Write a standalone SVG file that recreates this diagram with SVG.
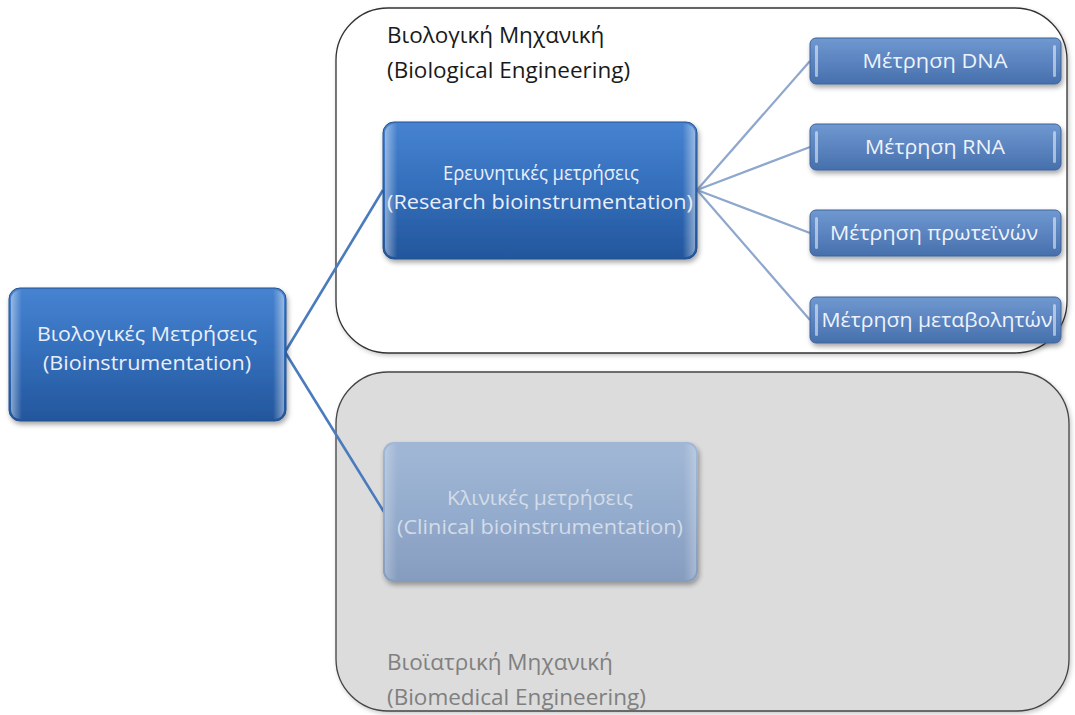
<svg xmlns="http://www.w3.org/2000/svg" width="1075" height="715" viewBox="0 0 1075 715">
  <defs>
    <style>
      .lbl { font-family: "Open Sans", "Noto Sans", "DejaVu Sans", sans-serif; text-anchor: middle; }
      .node-text { fill: #e9eff8; font-size: 20px; }
      .leaf-text { fill: #eef3fb; font-size: 19.5px; }
      .faded-text { fill: #d3dce9; font-size: 19.5px; }
      .area-title { font-family: "Open Sans", "Noto Sans", "DejaVu Sans", sans-serif; font-size: 22.5px; }
      .conn-main { stroke: #4a7bbd; stroke-width: 2.6; fill: none; }
      .conn-leaf { stroke: #8ea7cd; stroke-width: 2.2; fill: none; }
      .bar { fill: #ffffff; opacity: 0.5; }
    </style>
    <linearGradient id="gDark" x1="0" y1="0" x2="0" y2="1">
      <stop offset="0" stop-color="#4683d0"/>
      <stop offset="0.45" stop-color="#3570bd"/>
      <stop offset="1" stop-color="#23569c"/>
    </linearGradient>
    <linearGradient id="gLeaf" x1="0" y1="0" x2="0" y2="1">
      <stop offset="0" stop-color="#7098d0"/>
      <stop offset="0.5" stop-color="#5b84c0"/>
      <stop offset="1" stop-color="#4670ab"/>
    </linearGradient>
    <linearGradient id="gFaded" x1="0" y1="0" x2="0" y2="1">
      <stop offset="0" stop-color="#9fb6d6"/>
      <stop offset="0.5" stop-color="#91aacd"/>
      <stop offset="1" stop-color="#8199bd"/>
    </linearGradient>
    <linearGradient id="gEdge" x1="0" y1="0" x2="1" y2="0">
      <stop offset="0" stop-color="#ffffff" stop-opacity="0.45"/>
      <stop offset="0.04" stop-color="#ffffff" stop-opacity="0"/>
      <stop offset="0.96" stop-color="#ffffff" stop-opacity="0"/>
      <stop offset="1" stop-color="#ffffff" stop-opacity="0.45"/>
    </linearGradient>
    <filter id="shadow" x="-10%" y="-10%" width="120%" height="130%">
      <feDropShadow dx="1.5" dy="3" stdDeviation="2.5" flood-color="#000" flood-opacity="0.35"/>
    </filter>
    <filter id="areaShadow" x="-5%" y="-5%" width="110%" height="110%">
      <feDropShadow dx="1.5" dy="2" stdDeviation="2" flood-color="#000" flood-opacity="0.22"/>
    </filter>
  </defs>

  <rect width="1075" height="715" fill="#ffffff"/>

  <!-- Grouping areas -->
  <g id="area-biological">
    <rect x="336" y="8" width="731" height="345" rx="52" ry="52" fill="#ffffff" stroke="#333333" stroke-width="1.3" filter="url(#areaShadow)"/>
    <text class="area-title" fill="#1a1a1a" x="387" y="43">Βιολογική Μηχανική</text>
    <text class="area-title" fill="#1a1a1a" x="387" y="78">(Biological Engineering)</text>
  </g>
  <g id="area-biomedical">
    <rect x="336" y="372" width="733" height="339" rx="52" ry="52" fill="#dcdcdc" stroke="#444444" stroke-width="1.3" filter="url(#areaShadow)"/>
    <text class="area-title" fill="#808080" x="387" y="670">Βιοϊατρική Μηχανική</text>
    <text class="area-title" fill="#808080" x="387" y="705">(Biomedical Engineering)</text>
  </g>

  <!-- Connectors -->
  <g id="connectors">
    <line class="conn-main" x1="285" y1="352" x2="383" y2="190"/>
    <line class="conn-main" x1="285" y1="352" x2="384" y2="512"/>
    <line class="conn-leaf" x1="697" y1="190" x2="810" y2="61"/>
    <line class="conn-leaf" x1="697" y1="190" x2="810" y2="147"/>
    <line class="conn-leaf" x1="697" y1="190" x2="810" y2="233"/>
    <line class="conn-leaf" x1="697" y1="190" x2="810" y2="320"/>
  </g>

  <!-- Root node -->
  <g id="node-bioinstrumentation">
    <rect x="9" y="288" width="277" height="133" rx="11" fill="url(#gDark)" stroke="#24508e" stroke-width="1" filter="url(#shadow)"/>
    <rect x="11" y="290" width="273" height="129" rx="9" fill="url(#gEdge)"/>
    <text class="lbl node-text" x="147" y="341" textLength="220" lengthAdjust="spacingAndGlyphs">Βιολογικές Μετρήσεις</text>
    <text class="lbl node-text" x="147" y="370" textLength="208" lengthAdjust="spacingAndGlyphs">(Bioinstrumentation)</text>
  </g>

  <!-- Research branch -->
  <g id="node-research">
    <rect x="383" y="122" width="314" height="137" rx="11" fill="url(#gDark)" stroke="#24508e" stroke-width="1" filter="url(#shadow)"/>
    <rect x="385" y="124" width="310" height="133" rx="9" fill="url(#gEdge)"/>
    <text class="lbl node-text" x="541" y="180" textLength="196" lengthAdjust="spacingAndGlyphs">Ερευνητικές μετρήσεις</text>
    <text class="lbl node-text" x="540" y="209" textLength="306" lengthAdjust="spacingAndGlyphs">(Research bioinstrumentation)</text>
  </g>

  <!-- Clinical branch (inactive) -->
  <g id="node-clinical">
    <rect x="383" y="442" width="315" height="140" rx="11" fill="url(#gFaded)" filter="url(#shadow)" opacity="0.95"/>
    <rect x="385" y="444" width="311" height="136" rx="9" fill="url(#gEdge)" opacity="0.6"/>
    <text class="lbl faded-text" x="540" y="505" textLength="186" lengthAdjust="spacingAndGlyphs">Κλινικές μετρήσεις</text>
    <text class="lbl faded-text" x="540" y="534" textLength="286" lengthAdjust="spacingAndGlyphs">(Clinical bioinstrumentation)</text>
  </g>

  <!-- Leaf measurements -->
  <g id="leaf-dna">
    <rect x="810" y="38" width="251" height="46" rx="6" fill="url(#gLeaf)" stroke="#3e639b" stroke-width="1" filter="url(#shadow)"/>
    <rect class="bar" x="815" y="45" width="3" height="32" rx="1.5"/>
    <rect class="bar" x="1053" y="45" width="3" height="32" rx="1.5"/>
    <text class="lbl leaf-text" x="935" y="68" textLength="145" lengthAdjust="spacingAndGlyphs">Μέτρηση DNA</text>
  </g>
  <g id="leaf-rna">
    <rect x="810" y="124" width="251" height="46" rx="6" fill="url(#gLeaf)" stroke="#3e639b" stroke-width="1" filter="url(#shadow)"/>
    <rect class="bar" x="815" y="131" width="3" height="32" rx="1.5"/>
    <rect class="bar" x="1053" y="131" width="3" height="32" rx="1.5"/>
    <text class="lbl leaf-text" x="935" y="154" textLength="140" lengthAdjust="spacingAndGlyphs">Μέτρηση RNA</text>
  </g>
  <g id="leaf-proteins">
    <rect x="810" y="210" width="251" height="46" rx="6" fill="url(#gLeaf)" stroke="#3e639b" stroke-width="1" filter="url(#shadow)"/>
    <rect class="bar" x="815" y="217" width="3" height="32" rx="1.5"/>
    <rect class="bar" x="1053" y="217" width="3" height="32" rx="1.5"/>
    <text class="lbl leaf-text" x="934" y="240" textLength="208" lengthAdjust="spacingAndGlyphs">Μέτρηση πρωτεϊνών</text>
  </g>
  <g id="leaf-metabolites">
    <rect x="810" y="297" width="251" height="46" rx="6" fill="url(#gLeaf)" stroke="#3e639b" stroke-width="1" filter="url(#shadow)"/>
    <rect class="bar" x="815" y="304" width="3" height="32" rx="1.5"/>
    <rect class="bar" x="1053" y="304" width="3" height="32" rx="1.5"/>
    <text class="lbl leaf-text" x="937" y="327" textLength="231" lengthAdjust="spacingAndGlyphs">Μέτρηση μεταβολητών</text>
  </g>
</svg>
